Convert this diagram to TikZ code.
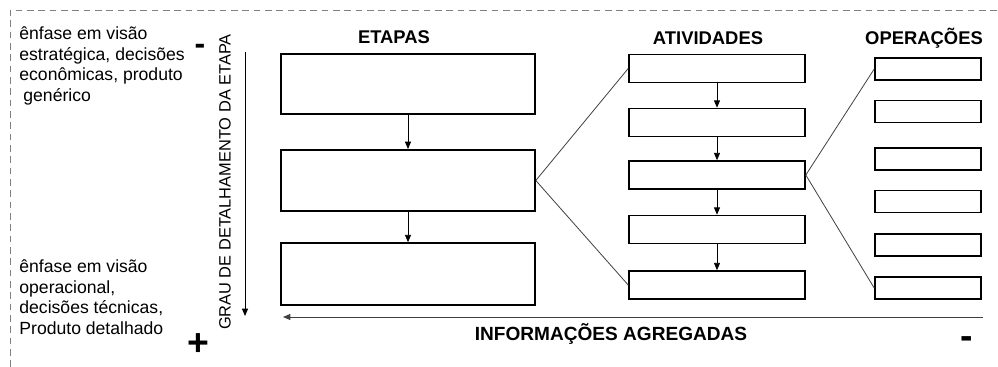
\documentclass[tikz,border=0pt]{standalone}
\usepackage{fontspec}
\setmainfont{Liberation Sans}
\usetikzlibrary{arrows.meta}

\begin{document}
\begin{tikzpicture}[x=0.75pt, y=-0.75pt, >={Triangle[length=5.5pt,width=4.5pt]}, line width=0.6pt,
    etapa/.style={draw, line width=1.2pt, minimum width=190.5pt, minimum height=45pt, inner sep=0pt},
    ativ/.style={draw, line width=1.2pt, minimum width=132pt, minimum height=21pt, inner sep=0pt},
    oper/.style={draw, line width=1.2pt, minimum width=79.5pt, minimum height=16.5pt, inner sep=0pt},
    titulo/.style={anchor=base, font=\fontsize{13.8}{16}\selectfont\bfseries},
    nota/.style={anchor=north west, align=left, inner sep=0pt, font=\fontsize{13.2}{15.6}\selectfont},
    sinal/.style={anchor=base, inner sep=0pt}]
  \useasboundingbox (0,0) rectangle (998,367);
  \draw[gray, dash pattern=on 5pt off 3.5pt, line width=0.7pt] (10,367) -- (10,10) -- (998,10);

  \node[nota] (nsup) at (19,26) {ênfase em visão\\estratégica, decisões\\econômicas, produto\\\hspace*{3pt}genérico};
  \node[nota] (ninf) at (19,259) {ênfase em visão\\operacional,\\decisões técnicas,\\Produto detalhado};
  \node[sinal, font=\fontsize{24}{24}\selectfont\bfseries] (menos1) at (200,55) {-};
  \node[sinal, font=\fontsize{28}{28}\selectfont\bfseries] (mais) at (198,355) {+};
  \node[sinal, font=\fontsize{28}{28}\selectfont\bfseries] (menos2) at (967,348) {-};

  \node[rotate=90, font=\fontsize{12.3}{14}\selectfont] (grau) at (225,182) {GRAU DE DETALHAMENTO DA ETAPA};
  \coordinate (gtopo) at (245,52);
  \coordinate (gbase) at (245,316);
  \draw[->] (gtopo) -- (gbase);

  \node[titulo] (tetapas) at (394,44) {ETAPAS};
  \node[titulo] (tativ) at (708,45) {ATIVIDADES};
  \node[titulo] (toper) at (924,45) {OPERAÇÕES};

  \node[etapa] (e1) at (408,84) {};
  \node[etapa, minimum height=46pt] (e2) at (408,180.5) {};
  \node[etapa, minimum height=46.5pt] (e3) at (408,274) {};
  \draw[->] (e1) -- (e2);
  \draw[->] (e2) -- (e3);

  \foreach \i/\y in {1/68.5,2/122.5,3/175,4/229.5,5/285}
    \node[ativ] (a\i) at (717,\y) {};
  \foreach \i in {1,...,4}{
    \pgfmathtruncatemacro\j{\i+1}
    \draw[->] (a\i) -- (a\j);
  }

  \foreach \i/\y in {1/69,2/111.5,3/159,4/201.5,5/245,6/288}
    \node[oper] (o\i) at (928,\y) {};

  \draw[black!75] (e2.east) -- (a1.west);
  \draw[black!75] (e2.east) -- (a5.west);
  \draw[black!75] (a3.east) -- (o1.west);
  \draw[black!75] (a3.east) -- (o6.west);

  \coordinate (idir) at (983,317);
  \coordinate (iesq) at (283,317);
  \draw[->, black!75] (idir) -- (iesq);
  \node[titulo, font=\fontsize{14.3}{16}\selectfont\bfseries] (tinfo) at (611,340) {INFORMAÇÕES AGREGADAS};
\end{tikzpicture}
\end{document}
